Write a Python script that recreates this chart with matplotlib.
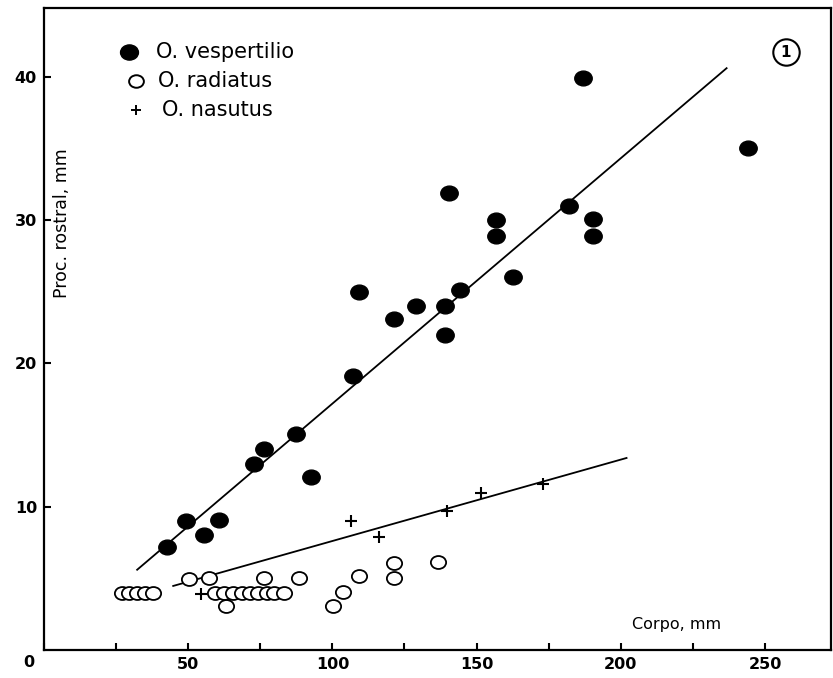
import matplotlib.pyplot as plt
from matplotlib.markers import MarkerStyle
from matplotlib.transforms import Affine2D

# O. vespertilio (filled circles)
vesp_x = [42.8, 49.2, 55.6, 60.8, 72.9, 76.4, 87.4, 92.6, 107.3, 109.4, 121.4,
          129.0, 139.1, 139.1, 144.3, 140.6, 156.8, 156.8, 162.6, 181.9, 190.4,
          190.4, 186.9, 244.0]
vesp_y = [7.2, 9.0, 8.0, 9.05, 13.0, 14.05, 15.1, 12.1, 19.1, 25.0, 23.1,
          24.0, 24.0, 22.0, 25.1, 31.9, 30.0, 28.9, 26.0, 31.0, 30.05,
          28.9, 39.9, 35.0]

# O. radiatus (open circles)
rad_x = [26.9, 29.5, 32.3, 35.1, 37.7, 50.3, 57.3, 59.3, 62.3, 63.1, 65.7,
         68.5, 71.5, 74.3, 76.4, 77.3, 79.6, 83.1, 88.5, 100.1, 103.6, 109.4,
         121.5, 121.5, 136.6]
rad_y = [4.0, 4.0, 4.0, 4.0, 4.0, 4.95, 5.05, 4.0, 4.0, 3.1, 4.0,
         4.0, 4.0, 4.0, 5.05, 4.0, 4.0, 4.0, 5.05, 3.07, 4.07, 5.16,
         6.05, 5.05, 6.12]

# O. nasutus (crosses)
nas_x = [54.6, 106.5, 116.3, 139.8, 151.4, 173.0]
nas_y = [3.9, 9.0, 7.86, 9.72, 10.98, 11.6]

# regression lines (end points)
vesp_fit_x = [32.3, 236.7]
vesp_fit_y = [5.6, 40.6]
nas_fit_x = [44.8, 202.0]
nas_fit_y = [4.47, 13.4]

x_ticks = [0, 25, 50, 75, 100, 125, 150, 175, 200, 225, 250]
x_ticklabels = ['', '', '50', '', '100', '', '150', '', '200', '', '250']
y_ticks = [10, 20, 30, 40]

# slightly flattened circles, like the hand-drawn symbols
oval = MarkerStyle('o', transform=Affine2D().scale(1.12, 0.95))

fig = plt.figure(figsize=(8.33, 6.78), dpi=100)
ax = fig.add_axes([44 / 833, 28 / 678, 787 / 833, 642 / 678])

ax.plot(vesp_fit_x, vesp_fit_y, color='black', lw=1.3, zorder=2)
ax.plot(nas_fit_x, nas_fit_y, color='black', lw=1.3, zorder=2)

ax.plot(rad_x, rad_y, marker=oval, ms=9.8, mfc='white', mec='black', mew=1.3,
        ls='none', zorder=3)
ax.plot(vesp_x, vesp_y, marker=oval, ms=11.2, color='black', ls='none',
        zorder=4)
ax.plot(nas_x, nas_y, '+', ms=9, mew=1.5, color='black', ls='none', zorder=5)

ax.set_xlim(0, 272.9)
ax.set_ylim(0, 44.8)
ax.set_xticks(x_ticks)
ax.set_xticklabels(x_ticklabels)
ax.set_yticks(y_ticks)
ax.tick_params(direction='in', length=5, width=1.5, labelsize=11.5, pad=5)
for lab in ax.get_xticklabels() + ax.get_yticklabels():
    lab.set_fontweight('bold')
for s in ax.spines.values():
    s.set_linewidth(1.6)

# origin label
ax.text(-5.2, -0.85, '0', fontsize=11.5, fontweight='bold', ha='center',
        va='center', clip_on=False)

# axis titles inside the frame
ax.text(6.3, 29.8, 'Proc. rostral, mm', rotation=90, fontsize=12.5,
        ha='center', va='center')
ax.text(219.4, 1.75, 'Corpo, mm', fontsize=11.5, ha='center', va='center')

# legend drawn by hand
leg_y = [41.7, 39.7, 37.7]
ax.plot([29.5], [leg_y[0]], marker=oval, ms=11.5, color='black')
ax.plot([32.0], [leg_y[1]], marker=oval, ms=9.5, mfc='white', mec='black',
        mew=1.4)
ax.plot([32.0], [leg_y[2]], '+', ms=7, mew=1.4, color='black')
ax.text(39.0, leg_y[0], 'O. vespertilio', fontsize=15, va='center')
ax.text(39.5, leg_y[1], 'O. radiatus', fontsize=15, va='center')
ax.text(41.0, leg_y[2], 'O. nasutus', fontsize=15, va='center')

# panel number
ax.plot([257.3], [41.7], 'o', ms=19, mfc='white', mec='black', mew=1.5)
ax.text(257.3, 41.7, '1', fontsize=11, fontweight='bold', ha='center',
        va='center')

fig.savefig('out.png', dpi=100)
